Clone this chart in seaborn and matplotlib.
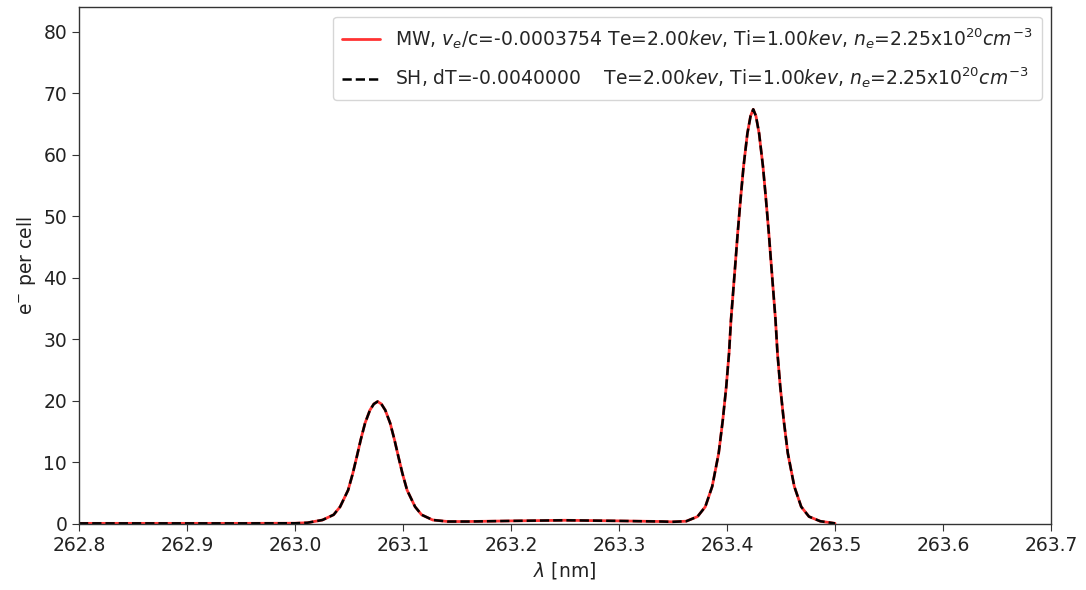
import matplotlib
matplotlib.use("Agg")
import matplotlib.pyplot as plt
import seaborn as sns
import pandas as pd

# wavelength grid (nm) and electrons per cell
wavelength = [262.80, 262.85, 262.90, 262.95, 263.00,
              263.0115, 263.0255, 263.0358, 263.0418, 263.0492, 263.0535,
              263.0572, 263.0609, 263.0649, 263.0694, 263.0730, 263.0765,
              263.0800, 263.0836, 263.0881, 263.0921, 263.0958, 263.0995,
              263.1038, 263.1112, 263.1172, 263.1275, 263.1415,
              263.16, 263.20, 263.25, 263.30, 263.34,
              263.3493, 263.3623, 263.3727, 263.3799, 263.3863, 263.3923,
              263.3961, 263.3993, 263.4019, 263.4037, 263.4075, 263.4099,
              263.4125, 263.4153, 263.4189, 263.4218, 263.4243, 263.4268,
              263.4297, 263.4333, 263.4361, 263.4387, 263.4411, 263.4449,
              263.4467, 263.4493, 263.4525, 263.4563, 263.4623, 263.4687,
              263.4759, 263.4863, 263.50]
mw_values = [0.10, 0.10, 0.10, 0.10, 0.12,
             0.20, 0.65, 1.50, 2.80, 5.50, 8.20,
             10.9, 13.7, 16.4, 18.5, 19.5, 19.9,
             19.5, 18.5, 16.4, 13.7, 10.9, 8.20,
             5.50, 2.80, 1.50, 0.65, 0.40,
             0.40, 0.50, 0.60, 0.50, 0.40,
             0.35, 0.45, 1.20, 2.80, 6.10, 11.5,
             16.9, 22.3, 27.8, 33.2, 41.8, 47.3,
             52.7, 58.1, 63.5, 66.3, 67.4, 66.3,
             63.5, 58.1, 52.7, 47.3, 41.8, 33.2,
             27.8, 22.3, 16.9, 11.5, 6.10, 2.80,
             1.20, 0.45, 0.10]
sh_values = list(mw_values)

mw_label = (r'MW, $v_e$/c=-0.0003754 Te=2.00$kev$, Ti=1.00$kev$, '
            r'$n_e$=2.25x10$^{20}$$cm^{-3}$')
sh_label = (r'SH, dT=-0.0040000    Te=2.00$kev$, Ti=1.00$kev$, '
            r'$n_e$=2.25x10$^{20}$$cm^{-3}$')
x_ticks = [262.8, 262.9, 263.0, 263.1, 263.2, 263.3, 263.4, 263.5, 263.6, 263.7]
y_ticks = [0, 10, 20, 30, 40, 50, 60, 70, 80]

FS = 13.5
sns.set_style("ticks")
plt.rcParams['font.family'] = ['DejaVu Sans']
plt.rcParams['font.size'] = FS

df = pd.DataFrame({"wl": wavelength, "mw": mw_values, "sh": sh_values})

fig = plt.figure(figsize=(10.86, 5.90), dpi=100)
ax = fig.add_axes([0.0727, 0.1119, 0.8951, 0.876])

sns.lineplot(data=df, x="wl", y="mw", ax=ax, color="red", alpha=0.8,
             linewidth=2.0, label=mw_label)
sns.lineplot(data=df, x="wl", y="sh", ax=ax, color="black", linestyle="--",
             linewidth=1.8, label=sh_label)

ax.set_xlim(262.8, 263.7)
ax.set_ylim(0, 84)
ax.set_xticks(x_ticks)
ax.set_xticklabels([f"{t:.1f}" for t in x_ticks])
ax.set_yticks(y_ticks)
ax.tick_params(labelsize=FS, direction="out", length=5, color="#333333",
               labelcolor="#222222")
ax.set_xlabel(r'$\lambda$ [nm]', fontsize=FS, color="#222222")
ax.set_ylabel(r'e$^{-}$ per cell', fontsize=FS, color="#222222")
for s in ax.spines.values():
    s.set_visible(True)
    s.set_color("#333333")
    s.set_linewidth(1.0)

leg = ax.legend(loc="upper right", fontsize=FS, frameon=True,
                handlelength=2.0, borderpad=0.5, labelspacing=0.8)
leg.get_frame().set_edgecolor("#cccccc")

fig.savefig("out.png", dpi=100)
